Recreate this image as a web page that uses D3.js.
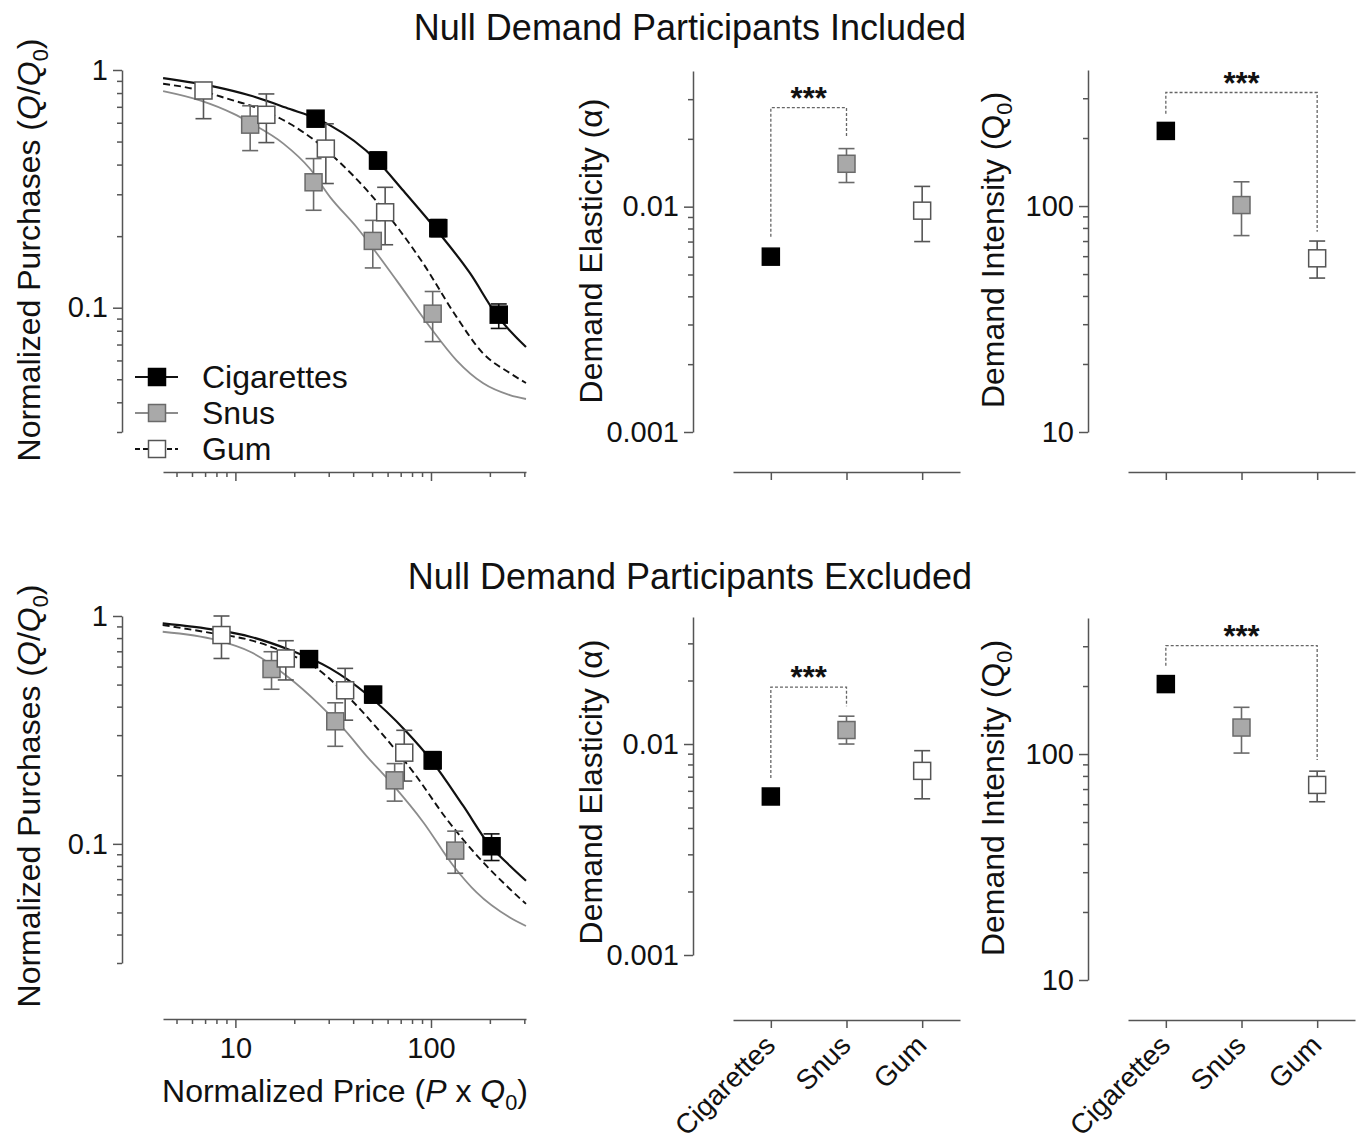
<!DOCTYPE html>
<html>
<head>
<meta charset="utf-8">
<script src="https://cdn.jsdelivr.net/npm/d3@7"></script>
<style>
  body { margin: 0; background: #fff; }
  svg { display: block; }
</style>
</head>
<body>
<div id="chart"></div>
<script>
const products = ["Cigarettes", "Snus", "Gum"];

// demand points: [normalized price, Q/Q0, lower, upper]
const inclCig = [[25.7, 0.624, 0.592, 0.658], [53.6, 0.416, 0.383, 0.452], [109, 0.216, 0.199, 0.235], [222, 0.0935, 0.0818, 0.1037]];
const inclSnus = [[11.9, 0.589, 0.458, 0.707], [25.1, 0.337, 0.257, 0.424], [50.4, 0.191, 0.147, 0.233], [102, 0.0944, 0.072, 0.117]];
const inclGum = [[6.87, 0.820, 0.624, 0.870], [14.4, 0.648, 0.495, 0.793], [29.0, 0.467, 0.333, 0.594], [58.3, 0.252, 0.184, 0.321]];
const exclCig = [[23.8, 0.647, 0.622, 0.672], [50.6, 0.452, 0.415, 0.490], [102, 0.2325, 0.213, 0.254], [204, 0.0976, 0.0845, 0.1106]];
const exclSnus = [[15.3, 0.585, 0.477, 0.697], [32.4, 0.345, 0.268, 0.416], [65.2, 0.190, 0.154, 0.225], [133, 0.0934, 0.0743, 0.1137]];
const exclGum = [[8.49, 0.825, 0.651, 1.0], [18.1, 0.651, 0.524, 0.779], [36.4, 0.472, 0.349, 0.589], [73.0, 0.2513, 0.1886, 0.315]];

// fitted demand curves: [price, Q/Q0]
const inclCigCurve = [[4.27, 0.924], [8.02, 0.847], [11.9, 0.781], [19.0, 0.685], [25.7, 0.627], [30.5, 0.585], [52.7, 0.417], [71.9, 0.312], [107, 0.212], [158, 0.140], [217, 0.0930], [306, 0.0683]];
const inclSnusCurve = [[4.27, 0.815], [6.59, 0.745], [9.75, 0.655], [11.9, 0.600], [17.6, 0.490], [24.0, 0.385], [30.5, 0.292], [41.7, 0.218], [66.8, 0.130], [98.8, 0.083], [135, 0.0601], [185, 0.0481], [253, 0.0429], [306, 0.0413]];
const inclGumCurve = [[4.27, 0.875], [6.07, 0.834], [9.72, 0.745], [11.9, 0.709], [19.0, 0.594], [26.1, 0.497], [30.5, 0.445], [50.5, 0.292], [91.0, 0.154], [135, 0.0915], [184, 0.0644], [253, 0.0531], [306, 0.0482]];
const exclCigCurve = [[4.25, 0.929], [8.02, 0.868], [11.9, 0.811], [19.0, 0.709], [30.5, 0.589], [46.5, 0.457], [75.1, 0.310], [98.9, 0.2365], [146, 0.147], [200, 0.0983], [253, 0.0802], [306, 0.0689]];
const exclSnusCurve = [[4.25, 0.853], [8.02, 0.784], [11.9, 0.697], [19.0, 0.532], [26.0, 0.420], [30.5, 0.367], [35.6, 0.321], [46.5, 0.2446], [64.2, 0.1805], [91.3, 0.1245], [130, 0.0802], [171, 0.0612], [253, 0.0475], [306, 0.0436]];
const exclGumCurve = [[4.25, 0.913], [7.71, 0.839], [11.9, 0.784], [17.6, 0.697], [26.0, 0.589], [38.5, 0.434], [55.1, 0.310], [81.2, 0.2065], [120, 0.1288], [178, 0.0859], [253, 0.0634], [306, 0.0545]];

// demand elasticity (alpha) and intensity (Q0), with error bounds
const inclAlpha = [0.0060, 0.0155, 0.0096];
const inclAlphaLo = [0.0058, 0.0128, 0.0070];
const inclAlphaHi = [0.0062, 0.0181, 0.0123];
const exclAlpha = [0.00564, 0.01165, 0.00746];
const exclAlphaLo = [0.0055, 0.0100, 0.0055];
const exclAlphaHi = [0.0058, 0.01355, 0.0093];
const inclQ0 = [215, 101, 58.7];
const inclQ0Lo = [211, 74, 48];
const inclQ0Hi = [219, 128, 70];
const exclQ0 = [204, 131, 73];
const exclQ0Lo = [200, 101, 61.5];
const exclQ0Hi = [208, 161, 84];

// significance brackets: [from index, to index, from end, bar level, to end]
const inclAlphaSig = [0, 1, 0.00736, 0.0275, 0.0205];
const exclAlphaSig = [0, 1, 0.0069, 0.0186, 0.0151];
const inclQ0Sig = [0, 2, 256, 318, 77];
const exclQ0Sig = [0, 2, 246, 302, 94];

const priceMajor = [10, 100];
const priceMinor = [5, 6, 7, 8, 9, 20, 30, 40, 50, 60, 70, 80, 90, 200, 300];
const qMajor = [0.1, 1];
const qMinor = [0.03, 0.04, 0.05, 0.06, 0.07, 0.08, 0.09, 0.2, 0.3, 0.4, 0.5, 0.6, 0.7, 0.8, 0.9];
const alphaMajor = [0.001, 0.01];
const alphaMinor = [0.002, 0.003, 0.004, 0.005, 0.006, 0.007, 0.008, 0.009, 0.02, 0.03];
const q0Major = [10, 100];
const q0Minor = [20, 30, 40, 50, 60, 70, 80, 90, 200, 300];

const FONT = "'Liberation Sans', Arial, Helvetica, sans-serif";
const AXIS = "#555";
const styles = [
  { fill: "#000", stroke: "#000", err: "#111", line: "#111", dash: null, width: 2.2 },
  { fill: "#a9a9a9", stroke: "#6a6a6a", err: "#6a6a6a", line: "#8c8c8c", dash: null, width: 1.8 },
  { fill: "#fff", stroke: "#555", err: "#555", line: "#111", dash: "7,4", width: 1.9 }
];

const svg = d3.select("#chart").append("svg")
  .attr("width", 1360)
  .attr("height", 1144)
  .attr("font-family", FONT);

const rows = [
  { title: "Null Demand Participants Included", titleY: 40, qRange: [432, 70], priceAxisY: 472,
    demand: [inclCig, inclSnus, inclGum], curves: [inclCigCurve, inclSnusCurve, inclGumCurve],
    alphaRange: [432, 71], q0Range: [432, 70], catY: 472,
    alpha: [inclAlpha, inclAlphaLo, inclAlphaHi], q0: [inclQ0, inclQ0Lo, inclQ0Hi],
    alphaSig: inclAlphaSig, q0Sig: inclQ0Sig, labelY: [250, 251, 250], bottom: false },
  { title: "Null Demand Participants Excluded", titleY: 589, qRange: [963, 616], priceAxisY: 1019,
    demand: [exclCig, exclSnus, exclGum], curves: [exclCigCurve, exclSnusCurve, exclGumCurve],
    alphaRange: [955, 617], q0Range: [980, 618], catY: 1020,
    alpha: [exclAlpha, exclAlphaLo, exclAlphaHi], q0: [exclQ0, exclQ0Lo, exclQ0Hi],
    alphaSig: exclAlphaSig, q0Sig: exclQ0Sig, labelY: [796, 792, 798], bottom: true }
];

function styleAxis(g, size) {
  g.select(".domain").attr("stroke", AXIS).attr("stroke-width", 1.5);
  g.selectAll(".tick line").attr("stroke", AXIS).attr("stroke-width", 1.5);
  g.selectAll(".tick text").attr("fill", "#111").attr("font-size", size).attr("font-family", FONT);
}

function logAxis(orient, scale, major, minor, fmt, tx, ty, showLabels) {
  const make = orient === "left" ? d3.axisLeft : d3.axisBottom;
  const g = svg.append("g").attr("transform", `translate(${tx},${ty})`)
    .call(make(scale).tickValues(major).tickSize(9).tickSizeOuter(0).tickPadding(orient === "left" ? 5 : 9)
      .tickFormat(showLabels ? fmt : ""));
  styleAxis(g, 29);
  const m = svg.append("g").attr("transform", `translate(${tx},${ty})`)
    .call(make(scale).tickValues(minor).tickSize(5).tickSizeOuter(0).tickFormat(""));
  m.select(".domain").remove();
  styleAxis(m, 29);
}

function richText(g, parts, size) {
  const t = g.append("text").attr("font-size", size).attr("fill", "#111");
  parts.forEach(p => {
    const s = t.append("tspan").text(p.t);
    if (p.i) s.attr("font-style", "italic");
    if (p.sub) s.attr("font-size", size * 0.68).attr("dy", 8);
    if (p.up) s.attr("dy", -8);
  });
  return t;
}

function rotatedLabel(parts, x, y) {
  const g = svg.append("g").attr("transform", `translate(${x},${y}) rotate(-90)`);
  richText(g, parts, 32).attr("text-anchor", "middle");
}

function errorBars(g, pts, xf, yf, style) {
  const cap = 8;
  const eb = g.append("g").attr("stroke", style.err).attr("stroke-width", 1.6).attr("fill", "none");
  pts.forEach(p => {
    const cx = xf(p), lo = yf(p.lo), hi = yf(p.hi);
    eb.append("line").attr("x1", cx).attr("x2", cx).attr("y1", lo).attr("y2", hi);
    eb.append("line").attr("x1", cx - cap).attr("x2", cx + cap).attr("y1", lo).attr("y2", lo);
    eb.append("line").attr("x1", cx - cap).attr("x2", cx + cap).attr("y1", hi).attr("y2", hi);
  });
}

function squares(g, pts, xf, yf, style) {
  const s = 17;
  g.append("g").selectAll("rect").data(pts).join("rect")
    .attr("x", d => xf(d) - s / 2).attr("y", d => yf(d.v) - s / 2)
    .attr("width", s).attr("height", s)
    .attr("fill", style.fill).attr("stroke", style.stroke).attr("stroke-width", 1.5);
}

function demandPanel(r) {
  const x = d3.scaleLog().domain([4.265, 306]).range([163, 526]);
  const y = d3.scaleLog().domain([0.03, 1]).range(r.qRange);
  logAxis("left", y, qMajor, qMinor, d => d === 1 ? "1" : "0.1", 122, 0, true);
  logAxis("bottom", x, priceMajor, priceMinor, d => String(d), 0, r.priceAxisY, r.bottom);

  const line = d3.line().x(d => x(d[0])).y(d => y(d[1])).curve(d3.curveMonotoneX);
  const g = svg.append("g");
  r.curves.forEach((c, i) => {
    g.append("path").datum(c).attr("d", line).attr("fill", "none")
      .attr("stroke", styles[i].line).attr("stroke-width", styles[i].width)
      .attr("stroke-dasharray", styles[i].dash);
  });
  r.demand.forEach((ser, i) => {
    const pts = ser.map(d => ({ p: d[0], v: d[1], lo: d[2], hi: d[3] }));
    errorBars(g, pts, d => x(d.p), y, styles[i]);
  });
  r.demand.forEach((ser, i) => {
    const pts = ser.map(d => ({ p: d[0], v: d[1] }));
    squares(g, pts, d => x(d.p), y, styles[i]);
  });

  rotatedLabel([{ t: "Normalized Purchases (" }, { t: "Q", i: true }, { t: "/" }, { t: "Q", i: true }, { t: "0", sub: true }, { t: ")", up: true }], 40, r.labelY[0]);

  if (r.bottom) {
    const tg = svg.append("g").attr("transform", "translate(345,1102)");
    richText(tg, [{ t: "Normalized Price (" }, { t: "P", i: true }, { t: " x " }, { t: "Q", i: true }, { t: "0", sub: true }, { t: ")", up: true }], 32)
      .attr("text-anchor", "middle");
  } else {
    // legend
    const lg = svg.append("g");
    products.forEach((name, i) => {
      const ly = 377 + i * 36;
      lg.append("line").attr("x1", 135).attr("x2", 178).attr("y1", ly).attr("y2", ly)
        .attr("stroke", styles[i].line).attr("stroke-width", styles[i].width)
        .attr("stroke-dasharray", i === 2 ? "5,3" : null);
      lg.append("rect").attr("x", 157 - 8.5).attr("y", ly - 8.5).attr("width", 17).attr("height", 17)
        .attr("fill", styles[i].fill).attr("stroke", styles[i].stroke).attr("stroke-width", 1.5);
      lg.append("text").attr("x", 202).attr("y", ly + 11).attr("font-size", 32).attr("fill", "#111").text(name);
    });
  }
}

function catPanel(r, axisX, range, domain, vals, sig, fmt, major, minor, yRange, labelParts, labelX, labelY) {
  const x = d3.scalePoint().domain(products).range(range).padding(0.5);
  const y = d3.scaleLog().domain(domain).range(yRange);
  logAxis("left", y, major, minor, fmt, axisX, 0, true);

  const cg = svg.append("g").attr("transform", `translate(0,${r.catY})`)
    .call(d3.axisBottom(x).tickSize(8).tickSizeOuter(0).tickFormat(""));
  styleAxis(cg, 28);
  if (r.bottom) {
    products.forEach(p => {
      svg.append("text")
        .attr("transform", `translate(${x(p) + 6},${r.catY + 27}) rotate(-45)`)
        .attr("text-anchor", "end").attr("font-size", 28).attr("fill", "#111").text(p);
    });
  }

  const [v, lo, hi] = vals;
  const g = svg.append("g");
  products.forEach((p, i) => {
    errorBars(g, [{ lo: lo[i], hi: hi[i] }], () => x(p), y, styles[i]);
    squares(g, [{ v: v[i] }], () => x(p), y, styles[i]);
  });

  const [a, b, yA, yBar, yB] = sig;
  const xa = x(products[a]), xb = x(products[b]);
  svg.append("path")
    .attr("d", `M${xa},${y(yA)}V${y(yBar)}H${xb}V${y(yB)}`)
    .attr("fill", "none").attr("stroke", "#666").attr("stroke-width", 1.3).attr("stroke-dasharray", "3,2");
  svg.append("text").attr("x", (xa + xb) / 2).attr("y", y(yBar) + 1)
    .attr("text-anchor", "middle").attr("font-size", 31).attr("font-weight", "bold").attr("fill", "#111").text("***");

  rotatedLabel(labelParts, labelX, labelY);
}

rows.forEach(r => {
  svg.append("text").attr("x", 690).attr("y", r.titleY).attr("text-anchor", "middle")
    .attr("font-size", 36).attr("fill", "#111").text(r.title);
  demandPanel(r);
  catPanel(r, 693, [733, 960], [0.001, 0.04], r.alpha, r.alphaSig,
    d => d === 0.01 ? "0.01" : "0.001", alphaMajor, alphaMinor, r.alphaRange,
    [{ t: "Demand Elasticity (\u03b1)" }], 602, r.labelY[1]);
  catPanel(r, 1088, [1128, 1355], [10, 400], r.q0, r.q0Sig,
    d => String(d), q0Major, q0Minor, r.q0Range,
    [{ t: "Demand Intensity (Q" }, { t: "0", sub: true }, { t: ")", up: true }], 1004, r.labelY[2]);
});
</script>
</body>
</html>
